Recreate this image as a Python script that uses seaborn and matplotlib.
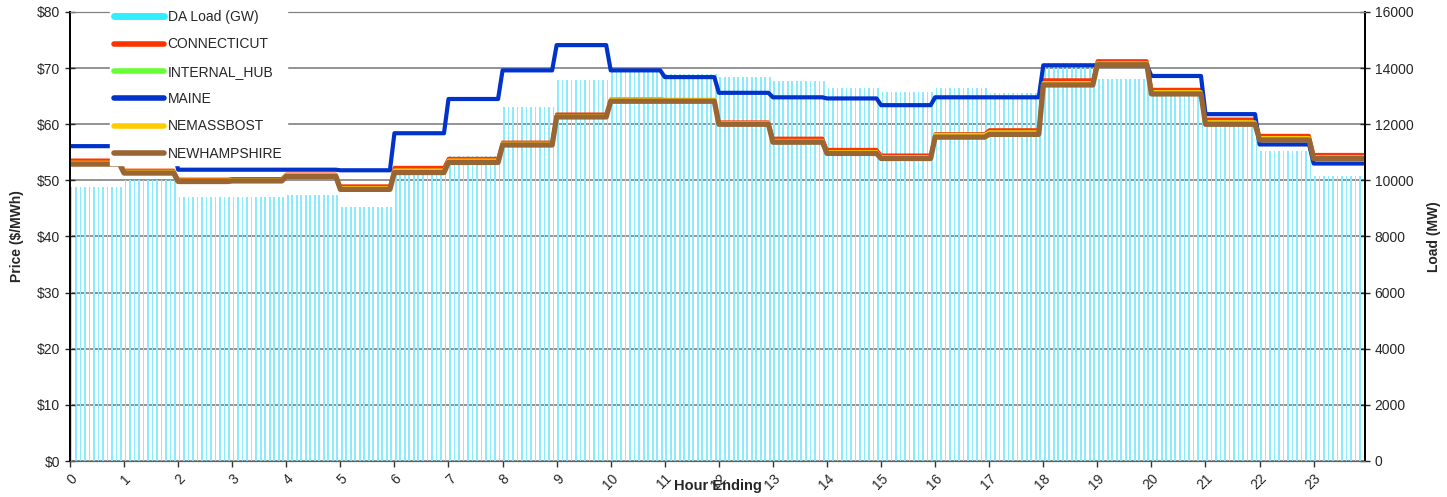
import matplotlib
matplotlib.use("Agg")
import matplotlib.pyplot as plt
from matplotlib.lines import Line2D
import seaborn as sns
import numpy as np
import pandas as pd

# hourly values (hour ending 0..23)
hours = list(range(24))
da_load = [9770, 10000, 9420, 9420, 9480, 9040, 10300, 10880, 12620, 13580, 13850, 13800,
           13700, 13540, 13280, 13150, 13280, 13130, 14200, 13600, 13000, 11970, 11060, 10170]
connecticut = [53.6, 51.8, 50.2, 50.3, 51.1, 49.0, 52.3, 53.9, 56.8, 61.8, 64.5, 64.4,
               60.4, 57.5, 55.5, 54.5, 58.3, 59.0, 67.9, 71.3, 66.2, 60.9, 58.0, 54.6]
internal_hub = [53.2, 51.5, 50.0, 50.1, 50.9, 48.7, 51.8, 53.5, 56.5, 61.5, 64.4, 64.3,
                60.3, 57.1, 55.1, 54.2, 58.2, 58.6, 67.4, 70.9, 65.8, 60.4, 57.6, 54.2]
maine = [56.1, 55.5, 51.9, 51.9, 51.9, 51.8, 58.4, 64.5, 69.6, 74.1, 69.6, 68.4,
         65.6, 64.8, 64.6, 63.4, 64.8, 64.8, 70.5, 70.5, 68.6, 61.8, 56.4, 53.0]
nemassbost = [53.2, 51.6, 50.0, 50.1, 51.0, 48.7, 51.8, 53.6, 56.6, 61.5, 64.5, 64.4,
              60.3, 57.1, 55.1, 54.2, 58.1, 58.6, 67.4, 70.9, 65.8, 60.4, 57.6, 54.2]
newhampshire = [52.9, 51.3, 49.8, 49.9, 50.7, 48.4, 51.4, 53.2, 56.3, 61.3, 64.1, 64.1,
                60.0, 56.8, 54.8, 53.9, 57.7, 58.2, 67.0, 70.6, 65.4, 60.0, 57.2, 53.9]

zones = ["CONNECTICUT", "INTERNAL_HUB", "MAINE", "NEMASSBOST", "NEWHAMPSHIRE"]
zone_data = [connecticut, internal_hub, maine, nemassbost, newhampshire]
zone_colors = ["#ff3300", "#66ff33", "#0033cc", "#ffcc00", "#996633"]
zone_widths = [2.4, 2.2, 3.0, 2.4, 3.8]

# 5-minute intervals, values constant within each hour
steps = 12
slot = np.arange(24 * steps) / steps
df = pd.DataFrame({"slot": slot, "load": np.repeat(da_load, steps)})
for z, vals in zip(zones, zone_data):
    df[z] = np.repeat(vals, steps)

sns.set_style("white")
plt.rcParams["font.family"] = ["Liberation Sans", "DejaVu Sans"]

fig = plt.figure(figsize=(14.47, 4.97), dpi=100)
ax = fig.add_axes([70 / 1447, 1 - 461 / 497, (1365 - 70) / 1447, (461 - 12) / 497])
ax2 = ax.twinx()

# load bars on the lower axis (right scale)
bw = 0.38
sns.barplot(data=df.assign(xb=df["slot"] + bw / steps / 2 + 0.01), x="xb", y="load",
            native_scale=True, width=bw, color="#8aebff", saturation=1,
            errorbar=None, linewidth=0, ax=ax)
ax.set_ylim(0, 16000)
ax.set_yticks(np.arange(0, 16001, 2000))
ax.yaxis.tick_right()
ax.yaxis.set_label_position("right")
ax.set_ylabel("Load (MW)", fontsize=10, fontweight="bold", labelpad=10)
ax.grid(axis="y", color="#808080", lw=1.2)
ax.set_axisbelow(True)

# prices on the twin axis (left scale)
for z, c, lw in zip(zones, zone_colors, zone_widths):
    sns.lineplot(data=df, x="slot", y=z, color=c, linewidth=lw, ax=ax2,
                 legend=False, solid_joinstyle="round")
ax2.set_ylim(0, 80)
ax2.set_yticks(np.arange(0, 81, 10))
ax2.set_yticklabels([f"${v}" for v in range(0, 81, 10)])
ax2.yaxis.tick_left()
ax2.yaxis.set_label_position("left")
ax2.set_ylabel("Price ($/MWh)", fontsize=10, fontweight="bold", labelpad=9)

for a in (ax, ax2):
    a.set_xlim(0, 23.95)
    a.spines["left"].set_color("black")
    a.spines["right"].set_color("black")
    a.spines["left"].set_linewidth(1.3)
    a.spines["right"].set_linewidth(1.3)
    a.spines["top"].set_color("#808080")
    a.spines["bottom"].set_color("#606060")
    a.spines["bottom"].set_linestyle((0, (2, 1)))

ax.set_xticks(hours)
ax.set_xticklabels([str(h) for h in hours], rotation=45, ha="right",
                   rotation_mode="anchor", fontsize=10)
ax2.set_xticks(hours)
ax2.tick_params(axis="x", labelbottom=False, bottom=False)
ax.tick_params(axis="x", direction="out", length=4, width=1, color="#333333", bottom=True)
ax.tick_params(axis="y", direction="inout", length=7, width=1, labelsize=10, right=True)
ax2.tick_params(axis="y", direction="inout", length=7, width=1, labelsize=10, left=True)

ax.set_xlabel("Hour Ending", fontsize=10.5, fontweight="bold")
ax.xaxis.set_label_coords(0.5, -0.04)
ax.xaxis.label.set_va("top")

handles = [Line2D([], [], color="#33eeff", lw=5)]
handles += [Line2D([], [], color=c, lw=4) for c in zone_colors]
labels = ["DA Load (GW)"] + zones
leg = ax2.legend(handles, labels, loc="upper left",
                 bbox_to_anchor=(110 / 1447, 1 - 6 / 497), bbox_transform=fig.transFigure,
                 fontsize=10, frameon=True, fancybox=False, framealpha=1,
                 facecolor="white", edgecolor="white", handlelength=3.6,
                 handletextpad=0.25, labelspacing=0.96, borderpad=0.3, borderaxespad=0)

fig.savefig("out.png", dpi=100)
